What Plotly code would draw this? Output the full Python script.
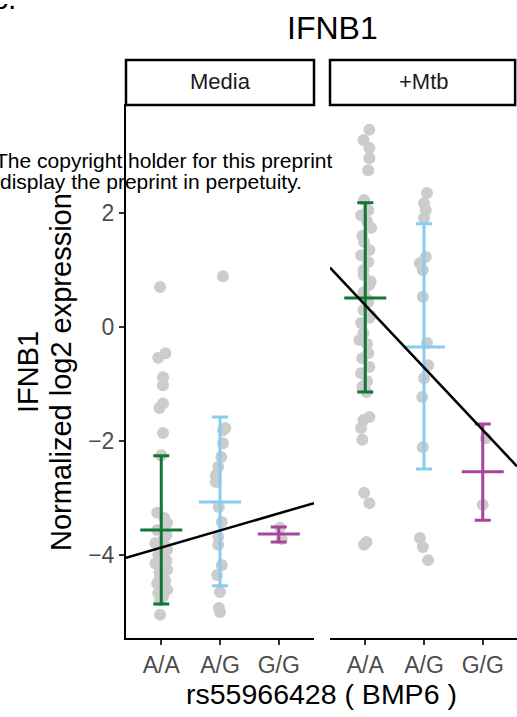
import plotly.graph_objects as go

W, H = 517, 717

genotypes = ["A/A", "A/G", "G/G"]
conditions = ["Media", "+Mtb"]
geno_colors = ["#117733", "#88CCEE", "#AA4499"]
y_ticks = [-4, -2, 0, 2]
y_tick_text = ["\u22124", "\u22122", "0", "2"]

# ---- individual samples (log2 expression) and horizontal jitter (category units)
media_AA = [0.70, -0.46, -0.54, -0.88, -1.02, -1.34, -1.42, -1.86, -2.25, -3.26, -3.35,
            -3.44, -3.56, -3.65, -3.74, -3.79, -3.85, -3.91, -4.00, -4.03, -4.10, -4.15,
            -4.26, -4.30, -4.38, -4.45, -4.50, -4.55, -4.61, -4.67, -4.73, -4.80, -5.05]
media_AA_jit = [-0.02, 0.07, -0.05, 0.03, 0.03, 0.03, -0.03, 0.03, 0.00, -0.07, 0.05,
                0.10, -0.07, 0.09, 0.03, -0.10, 0.07, 0.10, -0.05, 0.02, 0.09, -0.10,
                0.10, -0.03, -0.02, 0.07, -0.07, 0.03, 0.10, -0.05, 0.03, -0.02, -0.02]
media_AG = [0.89, -1.77, -1.81, -2.04, -2.28, -2.45, -2.60, -2.72, -3.16, -3.42, -3.68,
            -3.82, -4.18, -4.35, -4.65, -4.93, -5.00]
media_AG_jit = [0.05, 0.09, 0.05, 0.05, 0.02, -0.03, -0.07, -0.07, -0.02, 0.03, -0.03,
                -0.03, 0.03, -0.05, 0.00, -0.02, 0.00]
media_GG = [-3.52, -3.72]
media_GG_jit = [0.02, 0.05]

mtb_AA = [3.46, 3.28, 3.14, 2.96, 2.75, 2.23, 2.05, 1.96, 1.85, 1.74, 1.60, 1.49, 1.35,
          1.26, 1.14, 1.00, 0.91, 0.80, 0.74, 0.61, 0.50, 0.44, 0.30, 0.20, 0.16, 0.07,
          -0.11, -0.23, -0.30, -0.46, -0.55, -0.70, -0.81, -0.95, -1.05, -1.14, -1.58,
          -1.63, -1.77, -1.98, -2.91, -3.09, -3.77, -3.82]
mtb_AA_jit = [0.07, -0.03, 0.07, 0.07, 0.05, -0.02, 0.05, -0.07, 0.03, 0.10, -0.05, -0.02,
              0.07, -0.07, 0.05, -0.03, -0.03, 0.09, 0.07, -0.03, 0.02, 0.05, -0.03, 0.09,
              0.07, -0.07, -0.03, -0.10, 0.03, 0.05, -0.05, 0.07, -0.07, 0.03, -0.05, 0.02,
              0.07, -0.03, -0.07, -0.05, -0.02, 0.07, 0.02, -0.02]
mtb_AG = [2.35, 2.17, 2.05, 1.91, 1.23, 1.12, 1.00, 0.53, -0.28, -0.67, -0.90, -1.23,
          -2.11, -3.70, -3.86, -4.09]
mtb_AG_jit = [0.05, 0.00, 0.03, 0.00, 0.03, -0.07, -0.02, -0.02, 0.05, 0.07, 0.00, -0.03,
              -0.02, -0.07, -0.02, 0.07]
mtb_GG = [-1.95, -3.12]
mtb_GG_jit = [0.05, 0.00]

# ---- summary (mean with lower / upper error bar ends)
media_mean = [-3.56, -3.07, -3.63]
media_upper = [-2.26, -1.58, -3.51]
media_lower = [-4.86, -4.54, -3.77]
mtb_mean = [0.51, -0.35, -2.54]
mtb_upper = [2.18, 1.81, -1.70]
mtb_lower = [-1.14, -2.49, -3.39]

# ---- linear fit per condition (genotype coded 1,2,3)
fit_intercept = [-4.17, 1.48]
fit_slope = [0.30, -1.095]

# ---- layout geometry (pixels)
PANEL_TOP, PANEL_BOTTOM = 104, 638
LEFT_X0, LEFT_X1 = 126, 314
RIGHT_X0 = 330
STRIP_TOP = 60
Y_RANGE = [-5.456, 3.912]
X_LEFT_RANGE = [0.4, 3.6]
px_per_cat = (LEFT_X1 - LEFT_X0) / (X_LEFT_RANGE[1] - X_LEFT_RANGE[0])
X_RIGHT_RANGE = [0.4, 0.4 + (W - RIGHT_X0) / px_per_cat]


def fx(px):
    return px / W


def fy(py):
    return 1 - py / H


FONT = "Liberation Sans, Arial, Helvetica, sans-serif"
POINT_COLOR = "#CCCCCC"

fig = go.Figure()

panels = [
    ("x", "y", [(media_AA, media_AA_jit), (media_AG, media_AG_jit), (media_GG, media_GG_jit)],
     media_mean, media_upper, media_lower, X_LEFT_RANGE),
    ("x2", "y2", [(mtb_AA, mtb_AA_jit), (mtb_AG, mtb_AG_jit), (mtb_GG, mtb_GG_jit)],
     mtb_mean, mtb_upper, mtb_lower, X_RIGHT_RANGE),
]

for pi, (xa, ya, groups, mean, upper, lower, xr) in enumerate(panels):
    # jittered samples
    for gi, (vals, jit) in enumerate(groups):
        fig.add_trace(go.Scatter(
            x=[gi + 1 + j for j in jit], y=vals, mode="markers",
            marker=dict(size=12, color=POINT_COLOR, line=dict(width=0)),
            xaxis=xa, yaxis=ya, showlegend=False, hoverinfo="skip"))
    # mean + error bars
    for gi in range(3):
        fig.add_trace(go.Scatter(
            x=[gi + 1], y=[mean[gi]], mode="markers",
            marker=dict(symbol="line-ew", size=30,
                        line=dict(width=3, color=geno_colors[gi])),
            error_y=dict(type="data", symmetric=False,
                         array=[upper[gi] - mean[gi]],
                         arrayminus=[mean[gi] - lower[gi]],
                         color=geno_colors[gi], thickness=3, width=8),
            xaxis=xa, yaxis=ya, showlegend=False, hoverinfo="skip"))
    # regression line across the panel
    xs = [xr[0], xr[1]]
    fig.add_trace(go.Scatter(
        x=xs, y=[fit_intercept[pi] + fit_slope[pi] * v for v in xs], mode="lines",
        line=dict(color="black", width=2.5),
        xaxis=xa, yaxis=ya, showlegend=False, hoverinfo="skip"))

tickfont = dict(family=FONT, size=23, color="#4D4D4D")
common_x = dict(tickvals=[1, 2, 3], ticktext=genotypes, showgrid=False, zeroline=False,
                showline=True, linecolor="black", linewidth=2, ticks="outside",
                ticklen=5, tickwidth=2, tickcolor="#333333", tickfont=tickfont,
                fixedrange=True, automargin=False)

fig.update_layout(
    template="none",
    width=W, height=H, autosize=False,
    margin=dict(l=0, r=0, t=0, b=0, pad=0),
    paper_bgcolor="white", plot_bgcolor="white",
    font=dict(family=FONT, color="black"),
    xaxis=dict(domain=[fx(LEFT_X0), fx(LEFT_X1)], range=X_LEFT_RANGE, anchor="y", **common_x),
    xaxis2=dict(domain=[fx(RIGHT_X0), 1.0], range=X_RIGHT_RANGE, anchor="y2", **common_x),
    yaxis=dict(domain=[fy(PANEL_BOTTOM), fy(PANEL_TOP)], range=Y_RANGE, anchor="x",
               tickvals=y_ticks, ticktext=y_tick_text, showgrid=False, zeroline=False,
               showline=True, linecolor="black", linewidth=2, ticks="outside",
               ticklen=5, tickwidth=2, tickcolor="#333333", tickfont=tickfont,
               fixedrange=True, automargin=False),
    yaxis2=dict(domain=[fy(PANEL_BOTTOM), fy(PANEL_TOP)], range=Y_RANGE, anchor="x2",
                showgrid=False, zeroline=False, showline=False,
                showticklabels=False, ticks="", fixedrange=True),
)

shapes = []
annotations = []
# facet strips
for xa_dom, label in (("x domain", conditions[0]), ("x2 domain", conditions[1])):
    shapes.append(dict(type="rect", xref=xa_dom, yref="paper",
                       x0=0.0, x1=0.99 if xa_dom.startswith("x2") else 1.0,
                       y0=fy(PANEL_TOP + 1), y1=fy(STRIP_TOP),
                       line=dict(color="black", width=2.5), fillcolor="white", layer="above"))
    annotations.append(dict(xref=xa_dom, yref="paper", x=0.5, y=fy((PANEL_TOP + STRIP_TOP) / 2),
                            text=label, showarrow=False, xanchor="center", yanchor="middle",
                            font=dict(family=FONT, size=22, color="#1A1A1A")))

# title
annotations.append(dict(xref="paper", yref="paper", x=fx(332), y=fy(28), text="IFNB1",
                        showarrow=False, xanchor="center", yanchor="middle",
                        font=dict(family=FONT, size=32, color="black")))
# x axis title
annotations.append(dict(xref="paper", yref="paper", x=fx(321), y=fy(694),
                        text="rs55966428 ( BMP6 )", showarrow=False,
                        xanchor="center", yanchor="middle",
                        font=dict(family=FONT, size=28.5, color="black")))
# y axis title (two lines)
annotations.append(dict(xref="paper", yref="paper", x=fx(28), y=fy(372), text="IFNB1",
                        textangle=-90, showarrow=False, xanchor="center", yanchor="middle",
                        font=dict(family=FONT, size=29, color="black")))
annotations.append(dict(xref="paper", yref="paper", x=fx(61), y=fy(372),
                        text="Normalized log2 expression",
                        textangle=-90, showarrow=False, xanchor="center", yanchor="middle",
                        font=dict(family=FONT, size=29, color="black")))
# overlaid preprint notice
annotations.append(dict(xref="paper", yref="paper", x=fx(334), y=fy(160),
                        text="The copyright holder for this preprint",
                        showarrow=False, xanchor="right", yanchor="middle",
                        font=dict(family=FONT, size=21, color="black")))
annotations.append(dict(xref="paper", yref="paper", x=fx(304), y=fy(181),
                        text="display the preprint in perpetuity.",
                        showarrow=False, xanchor="right", yanchor="middle",
                        font=dict(family=FONT, size=21, color="black")))
# clipped panel letter
annotations.append(dict(xref="paper", yref="paper", x=fx(18), y=fy(17), text="c.",
                        showarrow=False, xanchor="right", yanchor="bottom",
                        font=dict(family=FONT, size=30, color="black")))

fig.update_layout(shapes=shapes, annotations=annotations)
fig.write_html("out.html",
               config={"displayModeBar": False},
               post_script="document.body.style.margin='0';"
                           "document.body.style.overflow='hidden';")
